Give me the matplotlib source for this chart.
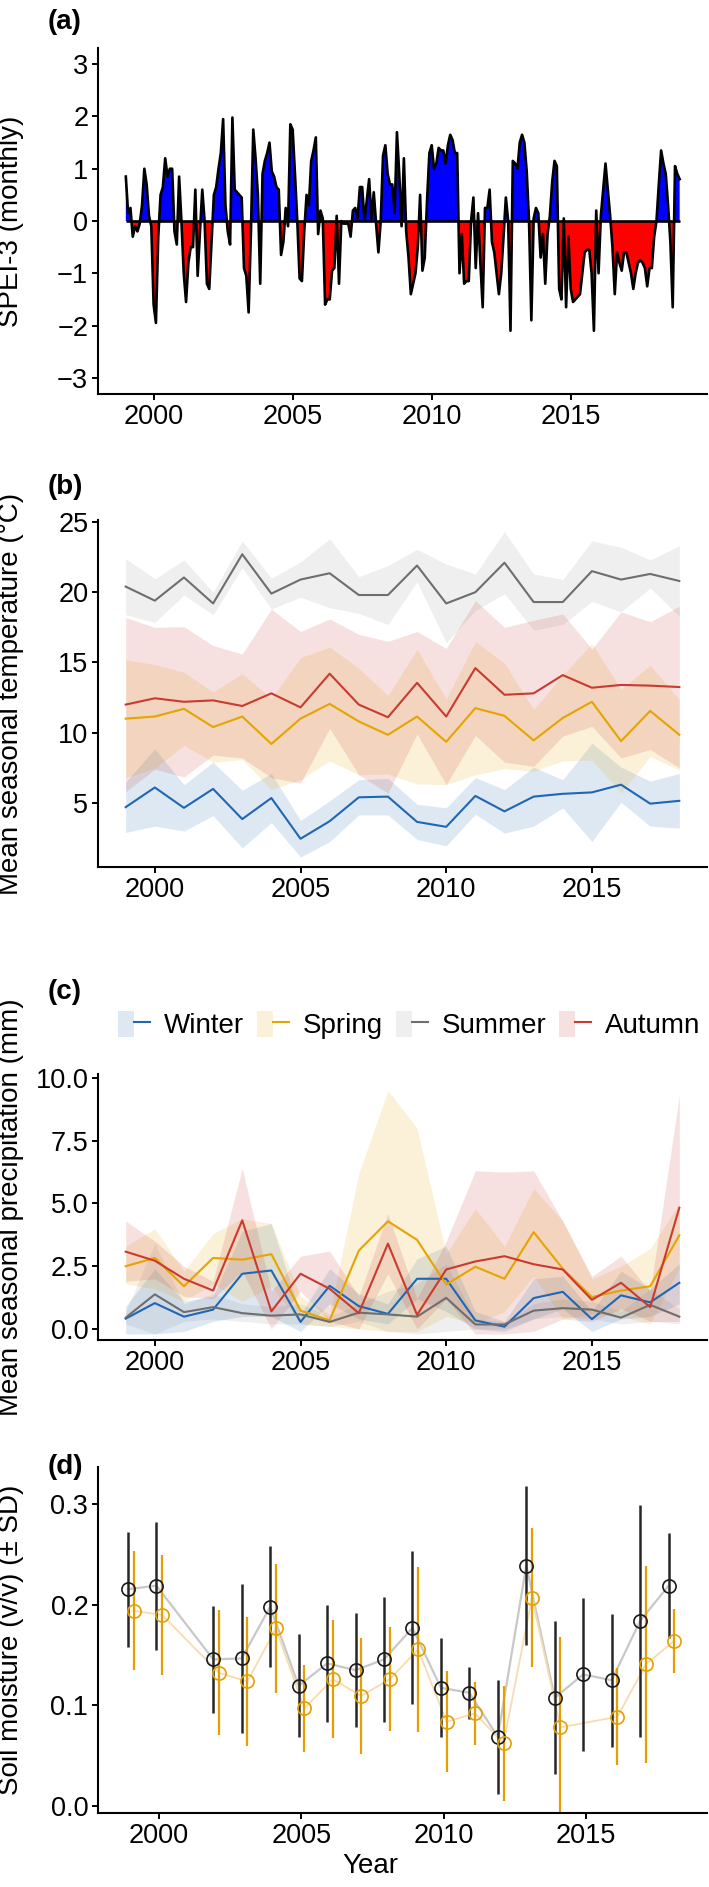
import numpy as np
import matplotlib
matplotlib.use("Agg")
import matplotlib.pyplot as plt
from matplotlib.patches import Patch
from matplotlib.lines import Line2D
from matplotlib.legend_handler import HandlerTuple

plt.rcParams['font.family'] = ['Liberation Sans', 'DejaVu Sans']

W, H = 709, 1887

# (a) SPEI-3, one row of 12 monthly values per year, 1999..2018
spei_rows = [
    [0.85, 0.15, 0.25, -0.3, -0.1, -0.2, -0.05, 0.3, 1.0, 0.7, 0.1, -0.1],
    [-1.6, -1.95, -0.3, 0.5, 0.65, 1.2, 0.85, 1.0, 1.0, -0.2, -0.45, 0.85],
    [0.0, -1.0, -1.55, -0.8, -0.5, -0.5, 0.6, -1.05, -0.2, 0.6, 0.0, -1.2],
    [-1.3, -0.4, 0.5, 0.65, 1.0, 1.3, 1.95, 0.3, -0.2, -0.45, 1.98, 0.6],
    [0.55, 0.5, 0.45, -0.9, -1.05, -1.75, -0.2, 1.75, 1.2, 0.5, -1.2, 0.9],
    [1.15, 1.3, 1.5, 0.95, 0.85, 0.65, 0.6, -0.65, -0.4, 0.25, -0.1, 1.85],
    [1.75, 0.9, 0.0, -1.1, -1.15, -0.2, 0.5, 0.3, 1.15, 1.35, 1.6, -0.25],
    [0.2, 0.05, -1.6, -1.5, -1.5, -0.95, -0.9, 0.1, -1.2, 0.0, -0.05, -0.05],
    [-0.05, -0.3, 0.2, 0.25, 0.05, 0.65, 0.65, 0.0, 0.4, 0.8, 0.05, 0.55],
    [-0.05, -0.6, 0.0, 1.25, 1.45, 0.9, 0.7, 0.7, 0.15, 1.7, 0.9, -0.1],
    [1.2, -0.2, -0.7, -1.4, -1.2, -1.0, -0.5, 0.5, -0.95, -0.7, 0.4, 1.3],
    [1.45, 1.0, 1.1, 1.4, 1.35, 1.35, 1.1, 1.45, 1.65, 1.55, 1.3, 1.3],
    [-1.0, -0.25, -1.2, -1.15, -1.15, 0.0, 0.45, -0.9, 0.15, -0.8, -1.65, 0.25],
    [0.25, 0.6, -0.4, -0.6, -1.0, -1.4, -1.0, -0.3, 0.45, 0.0, -2.1, 1.15],
    [1.1, 1.0, 1.5, 1.65, 1.5, 0.95, 0.0, -1.9, 0.05, 0.25, 0.15, -0.7],
    [-0.25, -1.2, -0.25, 0.1, 0.75, 1.15, 1.05, -1.3, -1.5, 0.05, -1.65, -0.3],
    [-1.3, -1.55, -1.5, -1.45, -1.4, -1.0, -0.6, -0.55, -0.55, -1.0, -2.1, 0.2],
    [-1.0, 0.1, 0.6, 1.1, 0.6, 0.1, -0.5, -1.4, -0.6, -0.8, -0.95, -0.6],
    [-0.6, -0.8, -1.0, -1.3, -1.0, -0.8, -0.75, -0.8, -0.9, -1.25, -0.9, -0.9],
    [-0.3, 0.0, 0.7, 1.35, 1.1, 0.9, 0.3, -0.4, -1.65, 1.05, 0.9, 0.8],
]
spei = np.array(spei_rows).ravel()
spei_t = 1999 + np.arange(len(spei)) / 12.0

years = np.arange(1999, 2019)
seasons = ['Winter', 'Spring', 'Summer', 'Autumn']
line_cols = ['#1f66b5', '#e6a400', '#6e6e6e', '#c93a2f']
rib_alpha = [0.15, 0.15, 0.11, 0.15]

# (b) mean seasonal temperature and SD
temp_winter = [4.7, 6.1, 4.65, 6.0, 3.85, 5.35, 2.45, 3.7, 5.4, 5.45, 3.65, 3.3, 5.5, 4.4, 5.45, 5.65, 5.75, 6.3, 4.95, 5.15]
temp_spring = [11.0, 11.15, 11.7, 10.4, 11.15, 9.2, 11.0, 12.05, 10.8, 9.85, 11.15, 9.35, 11.75, 11.2, 9.45, 11.05, 12.2, 9.4, 11.55, 9.85]
temp_summer = [20.4, 19.4, 21.05, 19.2, 22.7, 19.9, 20.9, 21.35, 19.8, 19.8, 21.9, 19.2, 20.0, 22.1, 19.3, 19.3, 21.5, 20.9, 21.3, 20.8]
temp_autumn = [12.0, 12.45, 12.2, 12.3, 11.9, 12.8, 11.8, 14.2, 12.0, 11.1, 13.55, 11.15, 14.6, 12.7, 12.8, 14.1, 13.2, 13.4, 13.35, 13.25]
sd_winter = [1.8, 2.75, 1.65, 1.9, 2.05, 1.75, 1.3, 1.45, 1.25, 1.3, 1.25, 1.35, 1.3, 1.55, 2.1, 1.0, 3.5, 1.25, 1.6, 1.95]
sd_spring = [4.2, 3.7, 2.6, 2.5, 3.05, 3.25, 4.35, 4.05, 3.8, 2.8, 4.8, 3.05, 4.75, 3.75, 2.2, 3.05, 4.15, 3.7, 3.25, 2.5]
sd_summer = [2.0, 1.55, 1.25, 0.8, 0.95, 1.1, 1.25, 2.45, 1.3, 2.1, 1.15, 2.8, 1.3, 2.2, 2.0, 1.6, 2.15, 2.3, 1.0, 2.5]
sd_autumn = [6.2, 5.05, 5.35, 3.9, 3.7, 6.0, 5.4, 3.9, 5.0, 5.4, 3.65, 4.85, 4.8, 4.8, 5.2, 4.35, 2.75, 5.2, 4.55, 5.75]

# (c) mean seasonal precipitation with lower / upper band
prec_winter = [0.41, 1.03, 0.49, 0.77, 2.2, 2.33, 0.28, 1.72, 0.91, 0.6, 2.0, 2.0, 0.34, 0.09, 1.23, 1.48, 0.39, 1.34, 1.06, 1.84]
prec_spring = [2.5, 2.83, 1.7, 2.83, 2.76, 2.98, 0.73, 0.34, 3.12, 4.29, 3.55, 1.77, 2.48, 2.0, 3.86, 2.4, 1.27, 1.53, 1.7, 3.73]
prec_summer = [0.45, 1.38, 0.67, 0.87, 0.63, 0.53, 0.58, 0.28, 0.65, 0.58, 0.49, 1.24, 0.18, 0.18, 0.73, 0.83, 0.77, 0.45, 0.96, 0.49]
prec_autumn = [3.08, 2.72, 2.0, 1.53, 4.33, 0.7, 2.2, 1.6, 0.63, 3.4, 0.56, 2.37, 2.69, 2.9, 2.58, 2.37, 1.16, 1.84, 0.87, 4.83]
lo_winter = [-0.2, -0.2, -0.1, 0.3, 0.5, 0.5, -0.1, 1.0, 0.4, 0.2, 1.2, 0.7, 0.0, -0.1, 0.4, 0.8, -0.1, 0.4, 0.5, 1.0]
hi_winter = [0.9, 2.4, 1.1, 1.3, 3.9, 4.2, 0.6, 2.4, 1.4, 1.0, 2.8, 3.3, 0.7, 0.3, 2.0, 2.1, 0.7, 2.3, 1.6, 2.6]
lo_spring = [1.8, 1.6, 1.1, 1.8, 1.1, 1.7, 0.2, 0.1, 0.0, -0.1, -0.1, 0.5, 0.2, 0.7, 2.1, 0.4, 0.6, 0.5, 0.2, 2.4]
hi_spring = [3.3, 4.0, 2.3, 3.8, 4.4, 4.2, 1.3, 0.6, 6.2, 9.5, 8.0, 3.0, 4.8, 3.3, 5.6, 4.3, 2.0, 2.5, 3.2, 5.0]
lo_summer = [0.2, -0.2, 0.3, 0.4, 0.3, 0.2, 0.2, 0.1, 0.3, -0.1, -0.2, -0.1, 0.0, 0.0, 0.4, 0.5, 0.4, 0.2, 0.3, 0.2]
hi_summer = [0.7, 3.4, 1.0, 1.4, 1.0, 0.9, 1.0, 0.5, 1.0, 1.5, 1.8, 2.6, 0.4, 0.3, 1.0, 1.2, 1.1, 0.7, 1.6, 0.8]
lo_autumn = [1.9, 2.0, 1.3, 1.2, 2.3, 0.0, 1.5, 0.3, 0.0, 2.2, 0.0, 1.2, -0.2, -0.2, -0.1, 0.4, 0.3, 0.8, 0.3, 0.3]
hi_autumn = [4.3, 3.5, 2.5, 1.9, 6.4, 1.5, 2.9, 3.1, 1.3, 4.6, 1.2, 3.5, 6.3, 6.25, 6.3, 4.3, 2.1, 2.9, 1.5, 9.3]

# (d) soil moisture, two series (black / orange), no 2001
sm_years = [1999, 2000, 2002, 2003, 2004, 2005, 2006, 2007, 2008, 2009, 2010, 2011, 2012, 2013, 2014, 2015, 2016, 2017, 2018]
sm_black = [0.2155, 0.219, 0.1457, 0.1467, 0.198, 0.1195, 0.1417, 0.135, 0.1457, 0.177, 0.1175, 0.1125, 0.0688, 0.239, 0.1076, 0.1308, 0.125, 0.184, 0.219]
sd_black = [0.057, 0.0635, 0.053, 0.074, 0.06, 0.051, 0.058, 0.0565, 0.062, 0.076, 0.049, 0.026, 0.0567, 0.079, 0.076, 0.076, 0.066, 0.1155, 0.052]
sm_orange = [0.194, 0.19, 0.1324, 0.1238, 0.1765, 0.097, 0.1261, 0.1092, 0.1261, 0.1556, 0.0837, 0.092, 0.0622, 0.2069, 0.0781, np.nan, 0.0887, 0.1407, 0.1642]
sd_orange = [0.059, 0.060, 0.062, 0.064, 0.064, 0.043, 0.059, 0.058, 0.0515, 0.082, 0.05, 0.031, 0.057, 0.069, 0.09, np.nan, 0.048, 0.098, 0.032]


def rect(left, top, right, bottom):
    return [left / W, 1 - bottom / H, (right - left) / W, (bottom - top) / H]


def style(ax):
    for s in ['top', 'right']:
        ax.spines[s].set_visible(False)
    for s in ['left', 'bottom']:
        ax.spines[s].set_linewidth(1.5)
    ax.tick_params(labelsize=19.5, length=4, width=1.4, pad=3, colors='black')
    ax.set_xticks([2000, 2005, 2010, 2015])
    ax.set_xticklabels(['2000', '2005', '2010', '2015'])
    ax.yaxis.set_label_coords(-0.122, 0.5)


fig = plt.figure(figsize=(W / 100, H / 100), dpi=100)

# ---- (a)
ax1 = fig.add_axes(rect(98, 48, 707, 394))
ax1.fill_between(spei_t, spei, 0, where=spei >= 0, interpolate=True, color='#0000ff', lw=0)
ax1.fill_between(spei_t, spei, 0, where=spei <= 0, interpolate=True, color='#ff0000', lw=0)
ax1.plot(spei_t, spei, color='black', lw=1.9)
ax1.hlines(0, spei_t[0], spei_t[-1], color='black', lw=1.9)
ax1.set_xlim(1998.0, 2019.9)
ax1.set_ylim(-3.31, 3.31)
ax1.set_yticks([-3, -2, -1, 0, 1, 2, 3])
style(ax1)
ax1.set_ylabel('SPEI-3 (monthly)', fontsize=20)

# ---- (b)
ax2 = fig.add_axes(rect(98, 520, 707, 867))
t_means = [temp_winter, temp_spring, temp_summer, temp_autumn]
t_sds = [sd_winter, sd_spring, sd_summer, sd_autumn]
for m, s, c, a in zip(t_means, t_sds, line_cols, rib_alpha):
    m = np.array(m)
    s = np.array(s)
    ax2.fill_between(years, m - s, m + s, color=c, alpha=a, lw=0)
for m, c in zip(t_means, line_cols):
    ax2.plot(years, m, color=c, lw=1.5)
ax2.set_xlim(1998.05, 2018.95)
ax2.set_ylim(0.44, 25.14)
ax2.set_yticks([5, 10, 15, 20, 25])
style(ax2)
ax2.set_ylabel('Mean seasonal temperature (°C)', fontsize=20)

# ---- (c)
ax3 = fig.add_axes(rect(98, 1074, 707, 1340))
p_means = [prec_winter, prec_spring, prec_summer, prec_autumn]
p_lo = [lo_winter, lo_spring, lo_summer, lo_autumn]
p_hi = [hi_winter, hi_spring, hi_summer, hi_autumn]
for lo, hi, c, a in zip(p_lo, p_hi, line_cols, rib_alpha):
    ax3.fill_between(years, lo, hi, color=c, alpha=a, lw=0)
for m, c in zip(p_means, line_cols):
    ax3.plot(years, m, color=c, lw=1.5)
ax3.set_xlim(1998.05, 2018.95)
ax3.set_ylim(-0.44, 10.16)
ax3.set_yticks([0, 2.5, 5, 7.5, 10])
ax3.set_yticklabels(['0.0', '2.5', '5.0', '7.5', '10.0'])
style(ax3)
ax3.set_ylabel('Mean seasonal precipitation (mm)', fontsize=20)

handles = [(Patch(facecolor=c, alpha=a, edgecolor='none'), Line2D([], [], color=c, lw=1.5))
           for c, a in zip(line_cols, rib_alpha)]
fig.legend(handles, seasons, loc='center', bbox_to_anchor=(409 / W, 1 - 1025 / H), ncol=4,
           frameon=False, fontsize=20, handler_map={tuple: HandlerTuple(ndivide=None)},
           handlelength=1.15, handleheight=1.1, handletextpad=0.5, columnspacing=0.47,
           borderpad=0, borderaxespad=0)

# ---- (d)
ax4 = fig.add_axes(rect(98, 1467, 707, 1813))
yb = np.array(sm_years, dtype=float)
mb, sb = np.array(sm_black), np.array(sd_black)
mo, so = np.array(sm_orange), np.array(sd_orange)
ok = ~np.isnan(mo)
ax4.plot(yb - 0.1, mb, color='#c8c8c8', lw=1.6, zorder=1)
ax4.plot(yb[ok] + 0.1, mo[ok], color='#f6dcb0', lw=1.3, zorder=1)
ax4.vlines(yb - 0.1, mb - sb, mb + sb, color='#262626', lw=1.8, zorder=2)
ax4.vlines(yb[ok] + 0.1, mo[ok] - so[ok], mo[ok] + so[ok], color='#e69f00', lw=1.6, zorder=2)
ax4.plot(yb - 0.1, mb, 'o', mfc='none', mec='#1a1a1a', ms=9.5, mew=1.2, zorder=3)
ax4.plot(yb[ok] + 0.1, mo[ok], 'o', mfc='none', mec='#e69f00', ms=9.5, mew=1.2, zorder=3)
ax4.set_xlim(1997.85, 2019.25)
ax4.set_ylim(-0.007, 0.337)
ax4.set_yticks([0.0, 0.1, 0.2, 0.3])
ax4.set_yticklabels(['0.0', '0.1', '0.2', '0.3'])
style(ax4)
ax4.set_ylabel('Soil moisture (v/v) (± SD)', fontsize=20)
ax4.set_xlabel('Year', fontsize=20)
ax4.xaxis.set_label_coords((370 - 98) / 609, -0.115)
ax4.xaxis.label.set_va('top')

# panel tags
for lab, y in zip(['(a)', '(b)', '(c)', '(d)'], [22, 487, 992, 1467]):
    fig.text(48 / W, 1 - y / H, lab, fontsize=20, fontweight='bold', ha='left', va='center')

fig.savefig('out.png', dpi=100)
